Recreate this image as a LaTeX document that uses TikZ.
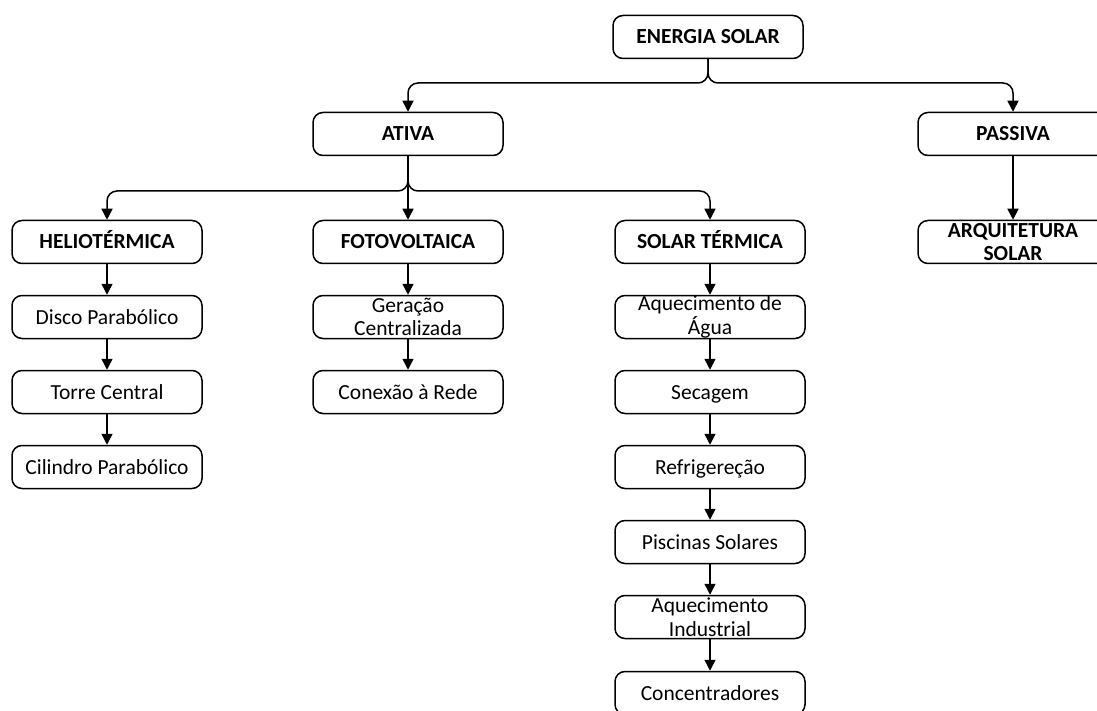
\documentclass[tikz,border=0pt]{standalone}
\usepackage{fontspec}
\setmainfont{Carlito}
\usepackage{tikz}
\usetikzlibrary{arrows.meta}

\begin{document}
\begin{tikzpicture}[
        x=1pt, y=-1pt,
        caixa/.style = {draw, rounded corners=10pt, line width=1.5pt, minimum width=190pt, minimum height=43pt, inner xsep=2pt,
                        text height=14pt, text depth=0pt, font=\fontsize{21.5}{23.5}\selectfont},
        titulo/.style = {caixa, font=\fontsize{21.5}{23.5}\selectfont\bfseries},
        dupla/.style = {align=center, inner ysep=-3pt, text height={}, text depth={}},
        seta/.style = {line width=1.5pt, rounded corners=10pt, -{Triangle[width=11pt,length=11pt]}},
        ]
        \useasboundingbox (0,0) rectangle (1097,711);
        \clip (0,0) rectangle (1097,711);

        \node[titulo](es) at (708,37) {ENERGIA SOLAR};
        \node[titulo](ativa) at (408,134) {ATIVA};
        \node[titulo](passiva) at (1013,134) {PASSIVA};

        \node[titulo](helio) at (107,242) {HELIOTÉRMICA};
        \node[titulo](foto) at (408,242) {FOTOVOLTAICA};
        \node[titulo](st) at (710,242) {SOLAR TÉRMICA};
        \node[titulo,dupla](arq) at (1013,242) {ARQUITETURA\\SOLAR};

        \node[caixa](disco) at (107,317) {Disco Parabólico};
        \node[caixa](torre) at (107,392) {Torre Central};
        \node[caixa](cilindro) at (107,467) {Cilindro Parabólico};

        \node[caixa,dupla](geracao) at (408,317) {Geração\\Centralizada};
        \node[caixa](conexao) at (408,392) {Conexão à Rede};

        \node[caixa,dupla](agua) at (710,317) {Aquecimento de\\Água};
        \node[caixa](secagem) at (710,392) {Secagem};
        \node[caixa](refri) at (710,467) {Refrigereção};
        \node[caixa](piscinas) at (710,542) {Piscinas Solares};
        \node[caixa,dupla](industrial) at (710,617) {Aquecimento\\Industrial};
        \node[caixa](concent) at (710,693) {Concentradores};

        % ramos
        \draw[seta] (es.south) -- (es.south |- 0,83) -| (ativa.north);
        \draw[seta] (es.south) -- (es.south |- 0,83) -| (passiva.north);
        \draw[seta] (ativa.south) -- (ativa.south |- 0,191) -| (helio.north);
        \draw[seta] (ativa.south) -- (foto.north);
        \draw[seta] (ativa.south) -- (ativa.south |- 0,191) -| (st.north);
        \draw[seta] (passiva.south) -- (arq.north);

        \draw[seta] (helio.south) -- (disco.north);
        \draw[seta] (disco.south) -- (torre.north);
        \draw[seta] (torre.south) -- (cilindro.north);

        \draw[seta] (foto.south) -- (geracao.north);
        \draw[seta] (geracao.south) -- (conexao.north);

        \draw[seta] (st.south) -- (agua.north);
        \draw[seta] (agua.south) -- (secagem.north);
        \draw[seta] (secagem.south) -- (refri.north);
        \draw[seta] (refri.south) -- (piscinas.north);
        \draw[seta] (piscinas.south) -- (industrial.north);
        \draw[seta] (industrial.south) -- (concent.north);
\end{tikzpicture}
\end{document}
